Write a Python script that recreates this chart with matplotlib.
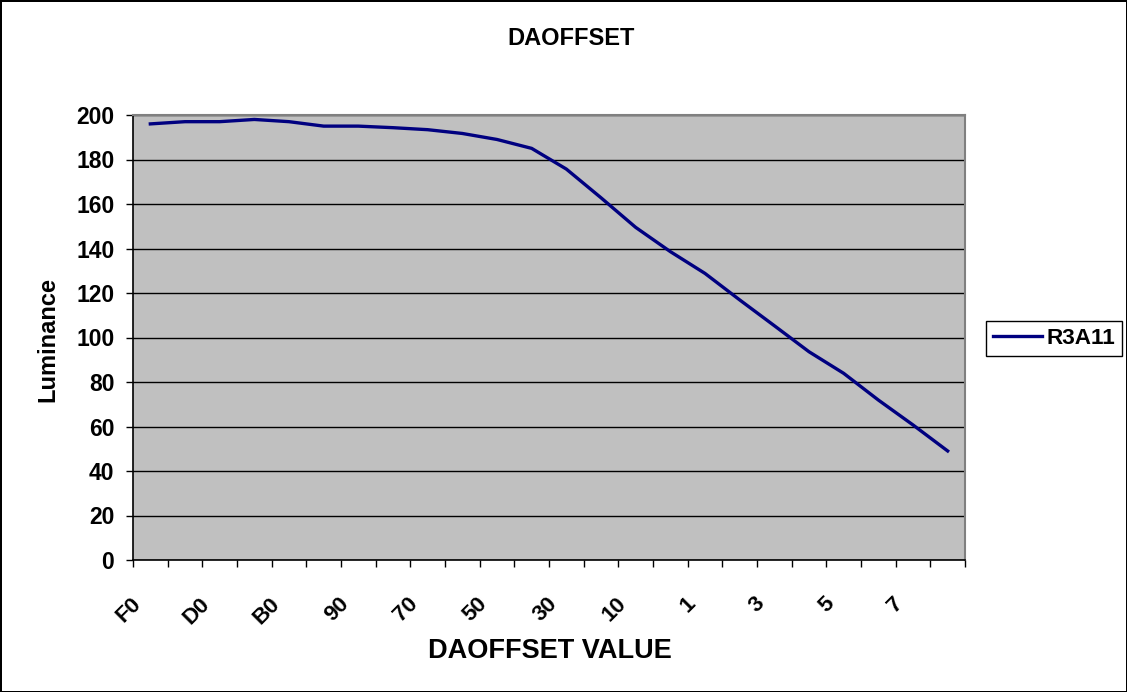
import matplotlib.pyplot as plt
import matplotlib.transforms as mtransforms
import numpy as np

plt.rcParams['font.family'] = ['Liberation Sans', 'DejaVu Sans']
plt.rcParams['font.weight'] = 'bold'

# category labels along the x axis (only every other one is printed)
categories = ['F0', 'E0', 'D0', 'C0', 'B0', 'A0', '90', '80', '70', '60', '50', '40',
              '30', '20', '10', '0', '1', '2', '3', '4', '5', '6', '7', '8']
luminance = [196, 197, 197, 198, 197, 195, 195, 194.3, 193.4, 191.7, 189, 185,
             175.7, 162.8, 149.5, 138.6, 128.8, 116.9, 105.3, 93.6, 83.9, 71.9, 60.7, 49]
series_name = 'R3A11'
y_ticks = list(range(0, 201, 20))

W, H = 1127, 692
fig = plt.figure(figsize=(W / 100, H / 100), dpi=100)
fig.patch.set_edgecolor('black')
fig.patch.set_linewidth(2)

left, right, top, bottom = 133, 965, 115, 560
ax = fig.add_axes([left / W, 1 - bottom / H, (right - left) / W, (bottom - top) / H])
ax.set_facecolor('#C0C0C0')

x = np.arange(len(categories)) + 0.5
ax.plot(x, luminance, color='#000080', linewidth=2.4, label=series_name, zorder=3)

ax.set_xlim(0, len(categories))
ax.set_ylim(0, 200)
ax.set_yticks(y_ticks)
ax.yaxis.grid(True, color='black', linewidth=1)
ax.set_axisbelow(True)

# boundary tick marks, labels on every other category centre
ax.set_xticks(np.arange(len(categories) + 1))
ax.set_xticklabels([])
ax.set_xticks(x[::2], minor=True)
ax.set_xticklabels(categories[::2], minor=True, rotation=45, ha='right', va='top',
                   rotation_mode='anchor', fontsize=16, fontweight='bold')
ax.tick_params(axis='x', which='minor', length=0, pad=24)
ax.tick_params(axis='x', which='major', length=5, width=1, direction='out')
ax.tick_params(axis='y', length=5, width=1, labelsize=16.5, pad=8.5)
for lbl in ax.get_yticklabels():
    lbl.set_fontweight('bold')
shift = mtransforms.ScaledTranslation(-0.20, 0, fig.dpi_scale_trans)
for lbl in ax.get_xticklabels(minor=True):
    lbl.set_transform(lbl.get_transform() + shift)

for side in ['top', 'right']:
    ax.spines[side].set_color('#808080')
    ax.spines[side].set_linewidth(1.5)
for side in ['left', 'bottom']:
    ax.spines[side].set_color('black')
    ax.spines[side].set_linewidth(1.2)

fig.text(571 / W, 1 - 38.5 / H, 'DAOFFSET', ha='center', va='center',
         fontsize=17, fontweight='bold')
fig.text(549.5 / W, 1 - 651.5 / H, 'DAOFFSET VALUE', ha='center', va='center',
         fontsize=19.5, fontweight='bold')
fig.text(48 / W, 1 - 340 / H, 'Luminance', ha='center', va='center',
         rotation=90, fontsize=17, fontweight='bold')

leg = fig.legend(loc='center left', bbox_to_anchor=(986 / W, 1 - 338.5 / H),
                 fancybox=False, edgecolor='black', framealpha=1,
                 prop={'size': 16.2, 'weight': 'bold'}, handlelength=2.2,
                 borderpad=0.3, handletextpad=0.2, borderaxespad=0)
leg.get_frame().set_linewidth(1)

fig.savefig('out.png', dpi=100)
